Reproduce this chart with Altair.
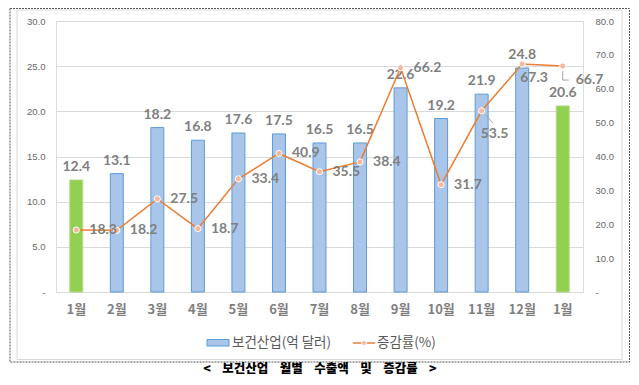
import json
import altair as alt
import pandas as pd

# ---- data ----
months = ["1월", "2월", "3월", "4월", "5월", "6월", "7월", "8월", "9월", "10월", "11월", "12월", "1월"]
exports = [12.4, 13.1, 18.2, 16.8, 17.6, 17.5, 16.5, 16.5, 22.6, 19.2, 21.9, 24.8, 20.6]
growth = [18.3, 18.2, 27.5, 18.7, 33.4, 40.9, 35.5, 38.4, 66.2, 31.7, 53.5, 67.3, 66.7]
left_ticks = [0, 5, 10, 15, 20, 25, 30]
right_ticks = [0, 10, 20, 30, 40, 50, 60, 70, 80]
bar_name = "보건산업(억 달러)"
line_name = "증감률(%)"
title_words = ["<", "보건산업", "월별", "수출액", "및", "증감률", ">"]

df = pd.DataFrame({"idx": list(range(len(months))), "month": months,
                   "exports": exports, "growth": growth})

W, H = 527, 271
KR = "Noto Sans CJK KR"
NUM = "Lato"
GRAY = "#7F7F7F"

label_expr = json.dumps(months, ensure_ascii=False) + "[datum.value]"
num_expr = "datum.value == 0 ? '-' : format(datum.value, '.1f')"
title_text = "\u00a0\u00a0\u00a0\u00a0".join(title_words)

x = alt.X("idx:O", scale=alt.Scale(paddingInner=0.68, paddingOuter=0.34),
          axis=alt.Axis(title=None, labelExpr=label_expr, labelAngle=0, domain=True,
                        domainColor="#D9D9D9", ticks=False, labelPadding=11,
                        labelFont=KR, labelFontSize=13, labelFontWeight="bold",
                        labelColor=GRAY))

yl = alt.Y("exports:Q", scale=alt.Scale(domain=[0, 30], nice=False),
           axis=alt.Axis(title=None, orient="left", values=left_ticks, labelExpr=num_expr,
                         grid=True, gridColor="#D9D9D9", domain=False, ticks=False,
                         labelPadding=11, labelFont="Liberation Sans", labelFontSize=9.5,
                         labelColor="#666666"))
yr = alt.Y("growth:Q", scale=alt.Scale(domain=[0, 80], nice=False),
           axis=alt.Axis(title=None, orient="right", values=right_ticks, labelExpr=num_expr,
                         grid=False, domain=False, ticks=False, labelPadding=12,
                         labelFont="Liberation Sans", labelFontSize=9.5, labelColor="#666666"))

base = alt.Chart(df)
current = (alt.datum.idx == 0) | (alt.datum.idx == 12)

bars = base.mark_bar(strokeWidth=1).encode(
    x=x, y=yl,
    color=alt.condition(current, alt.value("#92D050"), alt.value("#A9C6EA")),
    stroke=alt.condition(current, alt.value("#B5DA8F"), alt.value("#5B9BD5")),
)
bar_labels = base.mark_text(dy=-13, baseline="middle", font=NUM, fontSize=14,
                            fontWeight="bold", color=GRAY).encode(
    x=x, y=yl, text=alt.Text("exports:Q", format=".1f"))

left = alt.layer(bars, bar_labels)

line = base.mark_line(color="#ED7D31", strokeWidth=1.5).encode(x=x, y=yr)
points = base.mark_point(shape="circle", filled=True, size=38, fill="#F6B89E",
                         stroke="white", strokeWidth=1, opacity=1).encode(x=x, y=yr)
txt = dict(font=NUM, fontSize=14, fontWeight="bold", color=GRAY, align="left", baseline="middle")
lab_norm = base.transform_filter("datum.idx < 10").mark_text(dx=13, **txt).encode(
    x=x, y=yr, text=alt.Text("growth:Q", format=".1f"))
lab_a = base.transform_filter("datum.idx == 10").mark_text(dx=-1, dy=23, **txt).encode(
    x=x, y=yr, text=alt.Text("growth:Q", format=".1f"))
lab_b = base.transform_filter("datum.idx == 11").mark_text(dx=-2, dy=14, **txt).encode(
    x=x, y=yr, text=alt.Text("growth:Q", format=".1f"))
lab_c = base.transform_filter("datum.idx == 12").mark_text(dx=13, dy=14, **txt).encode(
    x=x, y=yr, text=alt.Text("growth:Q", format=".1f"))

lead_a = base.transform_filter("datum.idx == 10").mark_rule(
    color="#A6A6A6", strokeWidth=1, xOffset=4, yOffset=4, x2Offset=11, y2Offset=12).encode(
    x=x, x2=alt.X2("idx:O"), y=yr, y2=alt.Y2("growth:Q"))
lead_c1 = base.transform_filter("datum.idx == 12").mark_rule(
    color="#A6A6A6", strokeWidth=1, yOffset=5, y2Offset=14).encode(
    x=x, y=yr, y2=alt.Y2("growth:Q"))
lead_c2 = base.transform_filter("datum.idx == 12").mark_rule(
    color="#A6A6A6", strokeWidth=1, yOffset=14, y2Offset=14, x2Offset=6).encode(
    x=x, x2=alt.X2("idx:O"), y=yr, y2=alt.Y2("growth:Q"))

right = alt.layer(line, lead_a, lead_c1, lead_c2, points, lab_norm, lab_a, lab_b, lab_c)

# ---- decorations (frames, legend, caption) ----
deco = alt.Chart(alt.Data(values=[{"k": 1}]))
outer = deco.mark_rect(fill="transparent", stroke="#555555", strokeWidth=1,
                       strokeDash=[2, 1]).encode(
    x=alt.value(-46), x2=alt.value(573.5), y=alt.value(-12.5), y2=alt.value(341))
inner = deco.mark_rect(fill="transparent", stroke="#D9D9D9", strokeWidth=1).encode(
    x=alt.value(-39), x2=alt.value(566), y=alt.value(-11), y2=alt.value(338.5))
leg_rect = deco.mark_rect(fill="#A9C6EA", stroke="#5B9BD5", strokeWidth=1).encode(
    x=alt.value(151), x2=alt.value(173), y=alt.value(318.5), y2=alt.value(325))
leg_t1 = deco.mark_text(text=bar_name, font=KR, fontSize=13.5, color="#595959",
                        align="left", baseline="middle").encode(
    x=alt.value(176), y=alt.value(322))
leg_line = deco.mark_rule(color="#ED7D31", strokeWidth=1.5).encode(
    x=alt.value(297), x2=alt.value(319), y=alt.value(322))
leg_pt = deco.mark_point(shape="circle", filled=True, size=25, fill="#F6B89E",
                         stroke="white", strokeWidth=1, opacity=1).encode(
    x=alt.value(308), y=alt.value(322))
leg_t2 = deco.mark_text(text=line_name, font=KR, fontSize=13.5, color="#595959",
                        align="left", baseline="middle").encode(
    x=alt.value(321), y=alt.value(322))
caption = deco.mark_text(text=title_text, font=KR, fontSize=12.5, fontWeight=900,
                         color="#000000", align="center", baseline="middle").encode(
    x=alt.value(264), y=alt.value(348))

chart = alt.layer(
    outer, inner, left, right, leg_rect, leg_t1, leg_line, leg_pt, leg_t2, caption
).resolve_scale(y="independent").properties(
    width=W, height=H, autosize="none",
    padding={"left": 48, "top": 13, "right": 47, "bottom": 86},
).configure_view(stroke=None).configure(background="white")

chart.save("out.html", embed_options={"renderer": "svg", "actions": False})
